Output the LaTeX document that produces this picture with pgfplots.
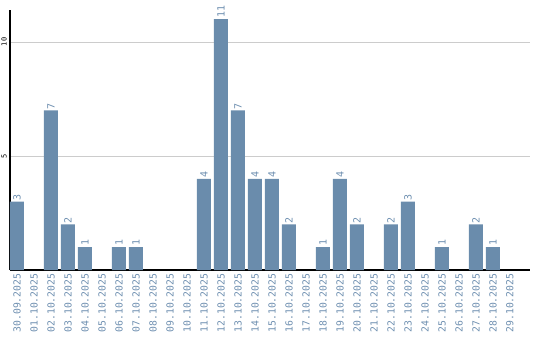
\documentclass[border=0pt]{standalone}
\usepackage{pgfplots}
\pgfplotsset{compat=1.18}
\usepackage{fontspec}
\setmainfont{DejaVu Sans Mono}
\definecolor{barc}{HTML}{6A8CAC}
\definecolor{labc}{HTML}{6E8FB0}
\begin{document}
\begin{tikzpicture}[x=1bp,y=1bp]
\path[use as bounding box] (-10bp,-70bp) rectangle (530bp,270bp);
\begin{axis}[
  at={(0,0)}, anchor=south west,
  scale only axis, width=520bp, height=260bp,
  xmin=-0.41, xmax=30.18, ymin=0, ymax=11.4,
  axis x line=bottom, axis y line=left,
  axis line style={-, black, line width=1.2pt},
  ytick={5,10},
  ymajorgrids, grid style={draw=black!20, line width=0.8pt},
  tick style={draw=none},
  major tick length=0pt,
  xtick={0,...,29},
  xticklabels={30.09.2025,01.10.2025,02.10.2025,03.10.2025,04.10.2025,05.10.2025,06.10.2025,07.10.2025,08.10.2025,09.10.2025,10.10.2025,11.10.2025,12.10.2025,13.10.2025,14.10.2025,15.10.2025,16.10.2025,17.10.2025,18.10.2025,19.10.2025,20.10.2025,21.10.2025,22.10.2025,23.10.2025,24.10.2025,25.10.2025,26.10.2025,27.10.2025,28.10.2025,29.10.2025},
  xticklabel style={rotate=90, anchor=east, font=\fontsize{9.8}{10}\selectfont, text=labc, inner sep=3.5bp},
  yticklabel style={rotate=90, anchor=south, font=\fontsize{7}{8}\selectfont, text=black, inner sep=3bp},
  /pgf/number format/assume math mode=true,
  ybar, bar width=14bp, bar shift=0pt,
  nodes near coords,
  every node near coord/.append style={rotate=90, anchor=west, font=\fontsize{10}{11}\selectfont, text=labc, inner sep=1pt},
]
\addplot[fill=barc, draw=none] coordinates {
(0,3) (2,7) (3,2) (4,1) (6,1) (7,1) (11,4) (12,11) (13,7) (14,4) (15,4) (16,2) (18,1) (19,4) (20,2) (22,2) (23,3) (25,1) (27,2) (28,1)
};
\end{axis}
\end{tikzpicture}
\end{document}
